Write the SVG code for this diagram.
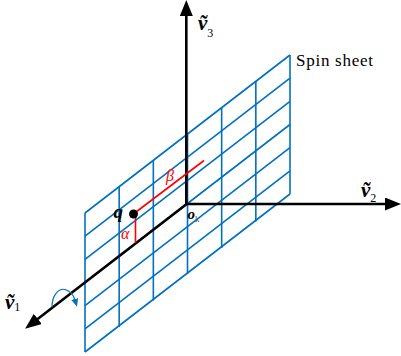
<svg xmlns="http://www.w3.org/2000/svg" width="401" height="356" viewBox="0 0 401 356">
<style>
.grid line{stroke:#0070C0;stroke-width:1.6;fill:none}
.axis{stroke:#000;stroke-width:2.6;fill:none}
.red{stroke:#FF0000;stroke-width:1.6;fill:none}
.lab{font-family:"Liberation Serif","DejaVu Serif",serif;font-weight:bold;font-style:italic;fill:#000}
.sub{font-weight:normal;font-style:normal}
.greek{font-family:"Liberation Serif","DejaVu Serif",serif;font-style:italic;fill:#FF0000}
</style>
<defs>
<marker id="ah" markerUnits="userSpaceOnUse" markerWidth="16" markerHeight="13" viewBox="0 0 16 13" refX="1" refY="6.5" orient="auto">
<path d="M0,0 L16,6.5 L0,13 z" fill="#000"/>
</marker>
<marker id="bh" markerUnits="userSpaceOnUse" markerWidth="8" markerHeight="7" viewBox="0 0 8 7" refX="1" refY="3.5" orient="auto">
<path d="M0,0 L8,3.5 L0,7 z" fill="#0070C0"/>
</marker>
</defs>
<rect width="401" height="356" fill="#fff"/>
<g id="spin-sheet" class="grid">
<line x1="85" y1="213" x2="290" y2="55"/>
<line x1="85" y1="236.17" x2="290" y2="78.17"/>
<line x1="85" y1="259.33" x2="290" y2="101.33"/>
<line x1="85" y1="282.5" x2="290" y2="124.5"/>
<line x1="85" y1="305.67" x2="290" y2="147.67"/>
<line x1="85" y1="328.83" x2="290" y2="170.83"/>
<line x1="85" y1="352" x2="290" y2="194"/>
<line x1="85" y1="213" x2="85" y2="352"/>
<line x1="119.17" y1="186.67" x2="119.17" y2="327"/>
<line x1="153.33" y1="160.33" x2="153.33" y2="300.5"/>
<line x1="187.5" y1="134" x2="187.5" y2="274"/>
<line x1="221.67" y1="107.67" x2="221.67" y2="248"/>
<line x1="255.83" y1="81.33" x2="255.83" y2="221.5"/>
<line x1="290" y1="55" x2="290" y2="194"/>
</g>
<g id="connectors">
<line id="axis-v3" class="axis" x1="186.3" y1="204" x2="186.3" y2="15" marker-end="url(#ah)"/>
<line id="axis-v2" class="axis" x1="186.3" y1="204" x2="386" y2="204" marker-end="url(#ah)"/>
<line id="axis-v1" class="axis" x1="187" y1="203.7" x2="37" y2="319.5" marker-end="url(#ah)"/>
<path id="spin-arrow" d="M52,307 C52,295 59,288 65,289.5 C70,291 73.5,295 75,300" fill="none" stroke="#0070C0" stroke-width="1.2" marker-end="url(#bh)"/>
</g>
<g id="angles">
<line class="red" x1="134" y1="213.5" x2="204" y2="160.5"/>
<line class="red" x1="135.5" y1="214" x2="135.5" y2="243"/>
<text class="greek" x="166" y="181" font-size="16">β</text>
<text class="greek" x="121" y="238.5" font-size="16">α</text>
</g>
<g id="point-q">
<circle cx="133.5" cy="214" r="4.5" fill="#000"/>
<text class="lab" x="113.5" y="217.5" font-size="19">q</text>
</g>
<g id="origin">
<text class="lab" x="187.5" y="218.5" font-size="15">o<tspan class="sub" font-size="9" fill="#555" dy="3">k</tspan></text>
</g>
<g id="label-v1"><text class="lab" x="5" y="309" font-size="21">ṽ<tspan class="sub" font-size="12" dy="1.5">1</tspan></text></g>
<g id="label-v2"><text class="lab" x="361" y="197" font-size="21">ṽ<tspan class="sub" font-size="12" dy="5">2</tspan></text></g>
<g id="label-v3"><text class="lab" x="198" y="30" font-size="21">ṽ<tspan class="sub" font-size="12" dy="7">3</tspan></text></g>
<g id="label-sheet"><text x="296" y="66" font-family="Liberation Serif, DejaVu Serif, serif" font-size="17" textLength="77" lengthAdjust="spacing" fill="#000">Spin sheet</text></g>
</svg>
